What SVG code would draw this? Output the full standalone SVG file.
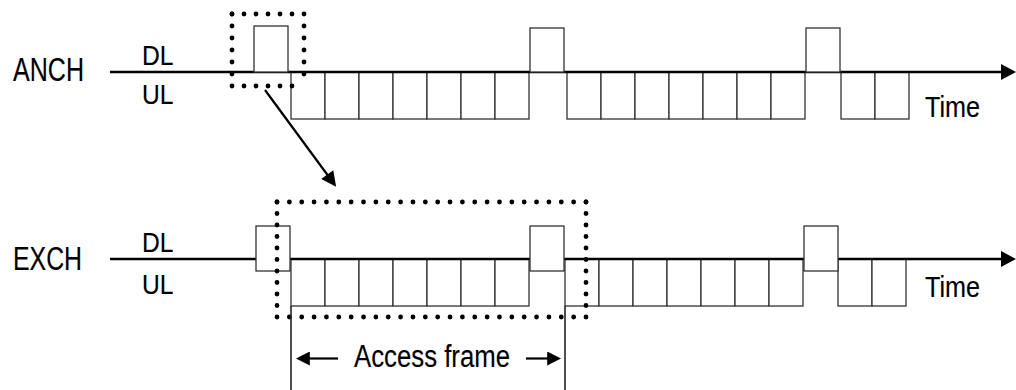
<svg xmlns="http://www.w3.org/2000/svg" width="1016" height="390" viewBox="0 0 1016 390">
<style>
.t{font-family:"Liberation Sans",Arial,sans-serif;fill:#000;stroke:#000;stroke-width:0.15}
.cell{fill:#fff;stroke:#333;stroke-width:1.3}
.axis{stroke:#000;stroke-width:2.6;fill:none}
.dots{stroke:#000;stroke-width:4.8;stroke-linecap:round;fill:none}
.conn{stroke:#000;stroke-width:2.2;fill:none}
.vline{stroke:#222;stroke-width:1.6}
</style>
<defs>
<marker id="ah" viewBox="0 0 10 10" refX="2" refY="5" markerWidth="18" markerHeight="15" markerUnits="userSpaceOnUse" orient="auto">
<path d="M0,0 L10,5 L0,10 z" fill="#000"/>
</marker>
<marker id="ah2" viewBox="0 0 10 10" refX="2" refY="5" markerWidth="14" markerHeight="14" markerUnits="userSpaceOnUse" orient="auto">
<path d="M0,0 L10,5 L0,10 z" fill="#000"/>
</marker>
</defs>

<g id="labels">
<text class="t" x="13" y="81" font-size="33" textLength="71" lengthAdjust="spacingAndGlyphs">ANCH</text>
<text class="t" x="142" y="65" font-size="28" textLength="31.5" lengthAdjust="spacingAndGlyphs">DL</text>
<text class="t" x="142" y="104" font-size="28" textLength="31.5" lengthAdjust="spacingAndGlyphs">UL</text>
<text class="t" x="925" y="117" font-size="29" textLength="55" lengthAdjust="spacingAndGlyphs">Time</text>
<text class="t" x="13" y="270" font-size="33" textLength="69" lengthAdjust="spacingAndGlyphs">EXCH</text>
<text class="t" x="142" y="252" font-size="28" textLength="31.5" lengthAdjust="spacingAndGlyphs">DL</text>
<text class="t" x="142" y="294" font-size="28" textLength="31.5" lengthAdjust="spacingAndGlyphs">UL</text>
<text class="t" x="925" y="297" font-size="29" textLength="55" lengthAdjust="spacingAndGlyphs">Time</text>
</g>

<g id="anch-row">
<g id="anch-ul">
<rect class="cell" x="291" y="72" width="34" height="47"/>
<rect class="cell" x="325" y="72" width="34" height="47"/>
<rect class="cell" x="359" y="72" width="34" height="47"/>
<rect class="cell" x="393" y="72" width="34" height="47"/>
<rect class="cell" x="427" y="72" width="34" height="47"/>
<rect class="cell" x="461" y="72" width="34" height="47"/>
<rect class="cell" x="495" y="72" width="34" height="47"/>
<rect class="cell" x="567" y="72" width="34" height="47"/>
<rect class="cell" x="601" y="72" width="34" height="47"/>
<rect class="cell" x="635" y="72" width="34" height="47"/>
<rect class="cell" x="669" y="72" width="34" height="47"/>
<rect class="cell" x="703" y="72" width="34" height="47"/>
<rect class="cell" x="737" y="72" width="34" height="47"/>
<rect class="cell" x="771" y="72" width="34" height="47"/>
<rect class="cell" x="841" y="72" width="34" height="47"/>
<rect class="cell" x="875" y="72" width="34" height="47"/>
</g>
<line class="axis" x1="110" y1="72" x2="1004" y2="72"/>
<polygon points="1001,64 1016,72 1001,80" fill="#000"/>
<g id="anch-dl">
<rect class="cell" x="254" y="26" width="34" height="46"/>
<rect class="cell" x="530" y="28" width="34" height="44"/>
<rect class="cell" x="806" y="28" width="34" height="44"/>
</g>
</g>

<g id="exch-row">
<g id="exch-ul">
<rect class="cell" x="291" y="259" width="34" height="47"/>
<rect class="cell" x="325" y="259" width="34" height="47"/>
<rect class="cell" x="359" y="259" width="34" height="47"/>
<rect class="cell" x="393" y="259" width="34" height="47"/>
<rect class="cell" x="427" y="259" width="34" height="47"/>
<rect class="cell" x="461" y="259" width="34" height="47"/>
<rect class="cell" x="495" y="259" width="34" height="47"/>
<rect class="cell" x="565" y="259" width="34" height="47"/>
<rect class="cell" x="599" y="259" width="34" height="47"/>
<rect class="cell" x="633" y="259" width="34" height="47"/>
<rect class="cell" x="667" y="259" width="34" height="47"/>
<rect class="cell" x="701" y="259" width="34" height="47"/>
<rect class="cell" x="735" y="259" width="34" height="47"/>
<rect class="cell" x="769" y="259" width="34" height="47"/>
<rect class="cell" x="838" y="259" width="34" height="47"/>
<rect class="cell" x="872" y="259" width="34" height="47"/>
</g>
<line class="axis" x1="110" y1="259" x2="1004" y2="259"/>
<polygon points="1001,251 1016,259 1001,267" fill="#000"/>
<g id="exch-dl">
<rect class="cell" x="256" y="226" width="34" height="45"/>
<rect class="cell" x="530" y="226" width="34" height="45"/>
<rect class="cell" x="804" y="226" width="34" height="45"/>
</g>
</g>

<g id="anch-highlight">
<path class="dots" d="M232,14 H304" stroke-dasharray="0 12"/>
<path class="dots" d="M232,86 H304" stroke-dasharray="0 12"/>
<path class="dots" d="M232,14 V86" stroke-dasharray="0 12"/>
<path class="dots" d="M304,14 V86" stroke-dasharray="0 12"/>
</g>

<g id="access-window">
<path class="dots" d="M277,202 H586" stroke-dasharray="0 12.36"/>
<path class="dots" d="M277,317 H586" stroke-dasharray="0 12.36"/>
<path class="dots" d="M277,202 V317" stroke-dasharray="0 11.5"/>
<path class="dots" d="M586,202 V317" stroke-dasharray="0 11.5"/>
</g>

<g id="access-frame">
<line class="vline" x1="291" y1="306" x2="291" y2="390"/>
<line class="vline" x1="565" y1="306" x2="565" y2="390"/>
<text class="t" x="354" y="367" font-size="31" textLength="156" lengthAdjust="spacingAndGlyphs">Access frame</text>
</g>

<g id="connectors">
<line class="conn" x1="265" y1="90" x2="329" y2="177" marker-end="url(#ah)"/>
<line class="conn" stroke-width="2.6" x1="338" y1="358.5" x2="307" y2="358.5" marker-end="url(#ah2)"/>
<line class="conn" stroke-width="2.6" x1="526" y1="358.5" x2="550" y2="358.5" marker-end="url(#ah2)"/>
</g>
</svg>
